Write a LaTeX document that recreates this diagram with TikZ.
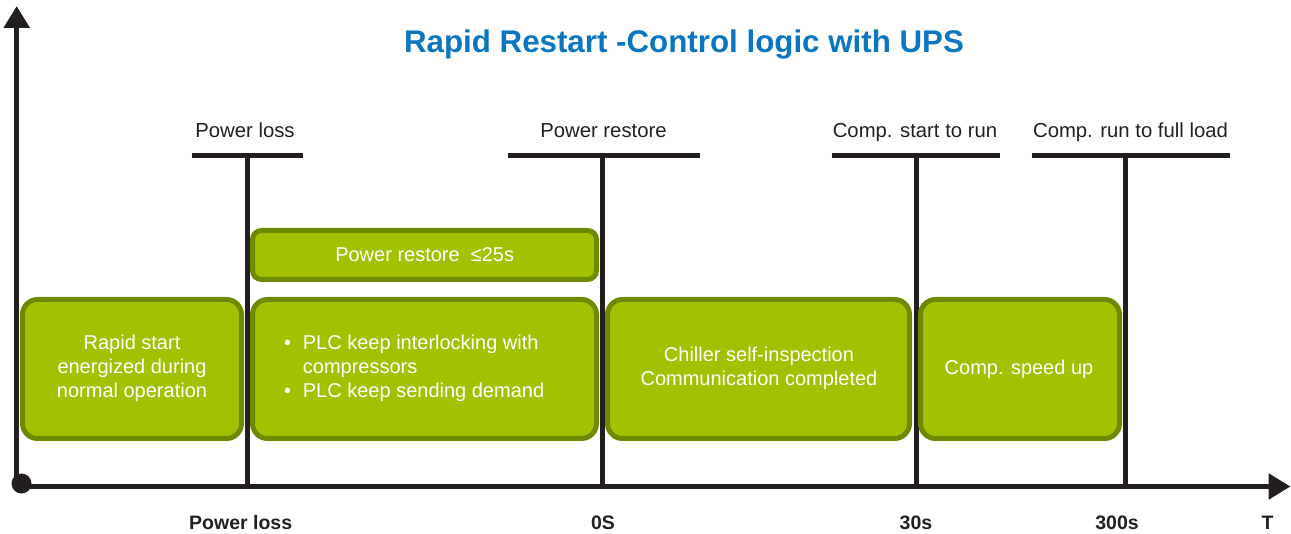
\documentclass[tikz,border=0pt]{standalone}
\usepackage{fontspec}
\setmainfont{Liberation Sans}
\usetikzlibrary{arrows.meta}

\definecolor{ink}{HTML}{231F20}
\definecolor{titleblue}{HTML}{0A76C2}
\definecolor{boxfill}{HTML}{A2C100}
\definecolor{boxedge}{HTML}{6E8A00}

\tikzset{
  axisline/.style={ink, line width=5.5pt, -{Triangle[length=22pt,width=25pt]}},
  marker/.style={ink, line width=5pt},
  bar/.style={ink, line width=5.5pt},
  phase/.style={draw=boxedge, fill=boxfill, line width=5pt, rounded corners=15pt,
    inner sep=0pt},
  toplabel/.style={ink, anchor=base, inner sep=0pt, font=\fontsize{20.3}{24}\selectfont},
  ticklabel/.style={ink, anchor=base, inner sep=0pt, font=\fontsize{19.5}{24}\selectfont\bfseries},
  boxtext/.style={text=white, inner sep=0pt, font=\fontsize{20}{24}\selectfont},
}

\begin{document}
\begin{tikzpicture}[x=1pt,y=-1pt]
\useasboundingbox (0,0) rectangle (1291,534);

% title
\node[anchor=base, inner sep=0pt, text=titleblue, font=\fontsize{31.3}{36}\selectfont\bfseries]
  (title) at (684,52.5) {Rapid Restart -Control logic with UPS};

% axes
\coordinate (origin) at (16.7,486.5);
\coordinate (ytip) at (16.7,6);
\coordinate (xtip) at (1290.5,486.5);
\draw[axisline] (16.7,490) -- (ytip);
\draw[axisline] (14,486.5) -- (xtip);
\fill[ink] (21.5,483.5) circle (10pt);

% event markers: top bar + vertical line down to the time axis
\coordinate (pl-top) at (247.5,155.5);   \coordinate (pl-bot) at (247.5,486.5);
\coordinate (pr-top) at (602,155.5);     \coordinate (pr-bot) at (602,486.5);
\coordinate (cs-top) at (916,155.5);     \coordinate (cs-bot) at (916,486.5);
\coordinate (cr-top) at (1125,155.5);    \coordinate (cr-bot) at (1125,486.5);

\draw[marker] (pl-top) -- (pl-bot);
\draw[marker] (pr-top) -- (pr-bot);
\draw[marker] (cs-top) -- (cs-bot);
\draw[marker] (cr-top) -- (cr-bot);

\draw[bar] (191.7,155.5) -- (302.7,155.5);
\draw[bar] (508,155.5) -- (700,155.5);
\draw[bar] (831.7,155.5) -- (1000,155.5);
\draw[bar] (1031.7,155.5) -- (1230,155.5);

\node[toplabel] (lbl-pl) at (245,138) {Power loss};
\node[toplabel] (lbl-pr) at (603.5,138) {Power restore};
\node[toplabel] (lbl-cs) at (915,138) {Comp. start to run};
\node[toplabel] (lbl-cr) at (1130.5,138) {Comp. run to full load};

% time axis labels
\node[ticklabel] (t-pl) at (240.7,529.3) {Power loss};
\node[ticklabel] (t-0) at (603,529.3) {0S};
\node[ticklabel] (t-30) at (916,529.3) {30s};
\node[ticklabel] (t-300) at (1117,529.3) {300s};
\node[ticklabel] (t-T) at (1267.5,529.3) {T};

% phases
\node[phase, rounded corners=9pt, minimum width=344pt, minimum height=49pt]
  (restore) at (424.5,255) {};
\node[boxtext, anchor=base] (restore-txt) at (424.7,261.7) {Power restore\ \ ≤25s};

\node[phase, minimum width=219pt, minimum height=139pt] (normal) at (132,369) {};
\node[boxtext, anchor=base] (normal-1) at (132,350) {Rapid start};
\node[boxtext, anchor=base] (normal-2) at (132,374) {energized during};
\node[boxtext, anchor=base] (normal-3) at (132,398) {normal operation};

\node[phase, minimum width=344pt, minimum height=139pt] (plc) at (424.5,369) {};
\node[boxtext, anchor=base west] (plc-b1) at (284,350) {•};
\node[boxtext, anchor=base west] (plc-1) at (302.7,350) {PLC keep interlocking with};
\node[boxtext, anchor=base west] (plc-2) at (302.7,374) {compressors};
\node[boxtext, anchor=base west] (plc-b2) at (284,398) {•};
\node[boxtext, anchor=base west] (plc-3) at (302.7,398) {PLC keep sending demand};

\node[phase, minimum width=302pt, minimum height=139pt] (inspect) at (758.5,369) {};
\node[boxtext, anchor=base] (inspect-1) at (759,362) {Chiller self-inspection};
\node[boxtext, anchor=base] (inspect-2) at (759,386) {Communication completed};

\node[phase, minimum width=199pt, minimum height=139pt] (speed) at (1020,369) {};
\node[boxtext, anchor=base] (speed-1) at (1019,374.5) {Comp. speed up};

\end{tikzpicture}
\end{document}
